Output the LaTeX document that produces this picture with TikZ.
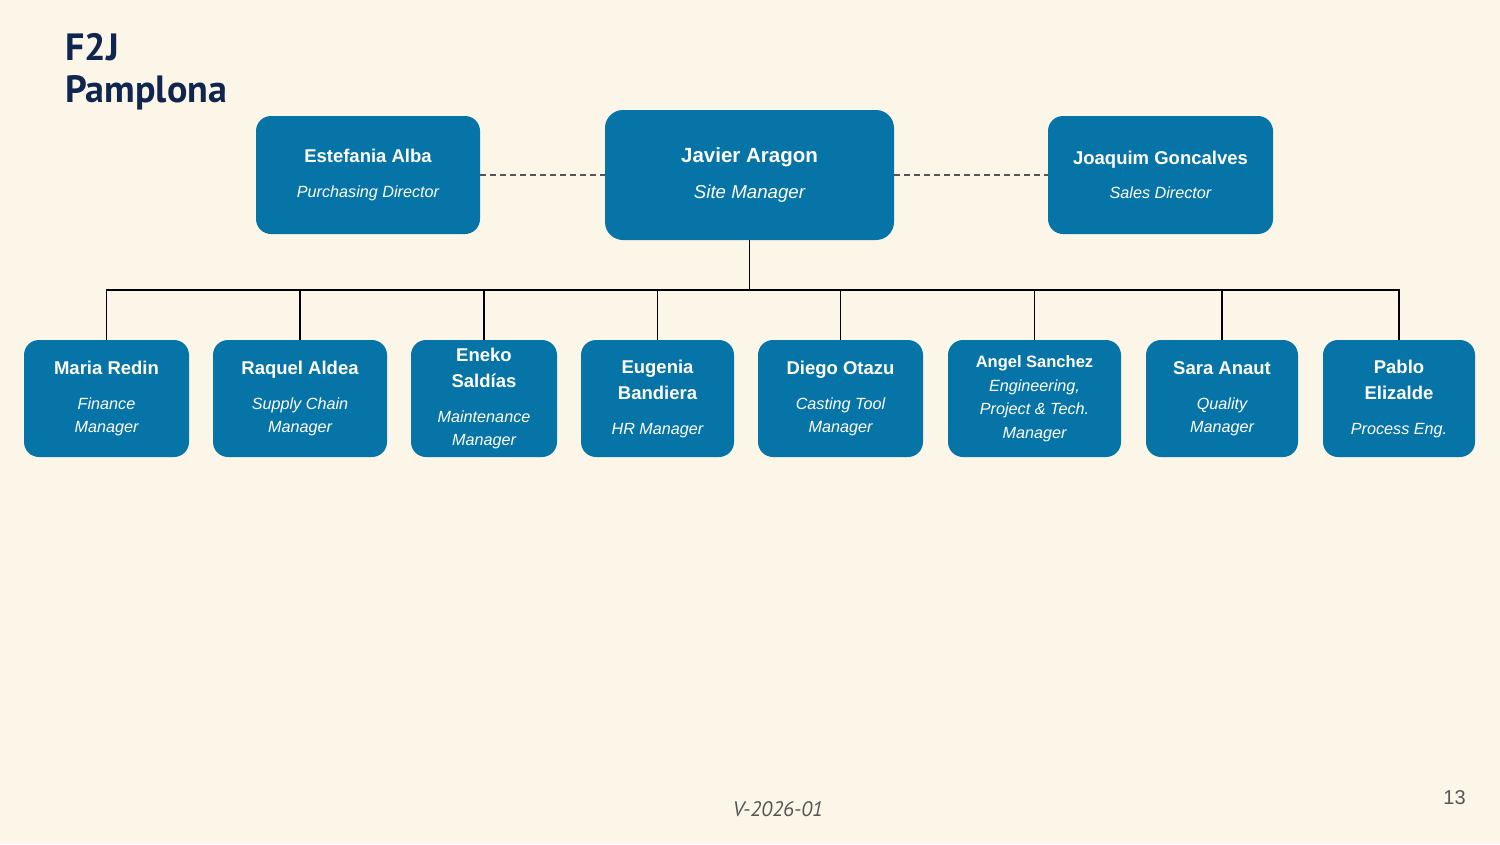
\documentclass[tikz,border=0pt]{standalone}
\usepackage{fontspec}
\setmainfont{Liberation Sans}
\newfontfamily\titlefont{PT Sans}
\usetikzlibrary{positioning}

\definecolor{paper}{RGB}{252,246,233}
\definecolor{boxblue}{RGB}{7,116,168}
\definecolor{navy}{RGB}{16,38,78}
\definecolor{inkgray}{RGB}{85,85,85}

\newcommand{\nm}[1]{{\fontsize{18.5}{23.5}\selectfont\upshape\bfseries #1}}
\newcommand{\rolefont}{\fontsize{16.2}{23.5}\selectfont\itshape}

\begin{document}
\begin{tikzpicture}[x=1pt, y=-1pt,
    card/.style={rectangle, rounded corners=15pt, fill=boxblue, text=white,
        align=center, inner sep=0pt, minimum height=117pt, font=\rolefont},
    tree/.style={draw=black, line width=1.1pt},
    link/.style={draw=inkgray, line width=1.3pt, dash pattern=on 6pt off 4pt}]
    \fill[paper] (0,0) rectangle (1500,844);
    \useasboundingbox (0,0) rectangle (1500,844);

    % title
    \node[anchor=base west, inner sep=0pt, text=navy, font=\titlefont\fontsize{38}{42}\selectfont\bfseries] (titleA) at (65,60) {F2J};
    \node[anchor=base west, inner sep=0pt, text=navy, font=\titlefont\fontsize{38}{42}\selectfont\bfseries] (titleB) at (65,102) {Pamplona};

    % top row
    \node[card, rounded corners=18pt, minimum width=289pt, minimum height=130pt,
        font=\fontsize{18.7}{23.5}\selectfont\itshape] (ceo) at (749.5,175)
        {{\fontsize{20.5}{23.5}\selectfont\upshape\bfseries Javier Aragon}\\[13pt]Site Manager};
    \node[card, minimum width=224pt, minimum height=118pt] (alba) at (368,175)
        {\nm{Estefania Alba}\\[11.5pt]Purchasing Director};
    \node[card, minimum width=225pt, minimum height=118pt] (goncalves) at (1160.5,175)
        {\nm{Joaquim Goncalves}\\[10.5pt]Sales Director};

    % bottom row
    \node[card, minimum width=165pt] (redin) at (106.5,398.5)
        {\nm{Maria Redin}\\[11.5pt]Finance\\Manager};
    \node[card, minimum width=174pt] (aldea) at (300,398.5)
        {\nm{Raquel Aldea}\\[11.5pt]Supply Chain\\Manager};
    \node[card, minimum width=146pt] (saldias) at (484,398.5)
        {\nm{Eneko}\\[2.5pt]\nm{Saldías}\\[11.5pt]Maintenance\\Manager};
    \node[card, minimum width=153pt] (bandiera) at (657.5,398.5)
        {\nm{Eugenia}\\[2.5pt]\nm{Bandiera}\\[11.5pt]HR Manager};
    \node[card, minimum width=165pt] (otazu) at (840.5,398.5)
        {\nm{Diego Otazu}\\[11.5pt]Casting Tool\\Manager};
    \node[card, minimum width=173pt] (sanchez) at (1034.5,398.5)
        {{\fontsize{16.5}{23.5}\selectfont\upshape\bfseries Angel Sanchez}\\Engineering,\\Project \& Tech.\\Manager};
    \node[card, minimum width=152pt] (anaut) at (1222,398.5)
        {\nm{Sara Anaut}\\[11.5pt]Quality\\Manager};
    \node[card, minimum width=152pt] (elizalde) at (1399,398.5)
        {\nm{Pablo}\\[2.5pt]\nm{Elizalde}\\[11.5pt]Process Eng.};

    % connectors
    \coordinate (bus) at (749.5,290);
    \draw[tree] (ceo.south) -- (bus);
    \foreach \who in {redin,aldea,saldias,bandiera,otazu,sanchez,anaut,elizalde}
        \draw[tree] (bus) -| (\who.north);
    \draw[link] (alba.east) -- (ceo.west);
    \draw[link] (ceo.east) -- (goncalves.west);

    % footer
    \node[anchor=base, inner sep=0pt, text=inkgray, font=\titlefont\fontsize{21}{24}\selectfont\itshape] (version) at (778,816) {V-2026-01};
    \node[anchor=base, inner sep=0pt, text=inkgray, font=\fontsize{20}{24}\selectfont] (pageno) at (1454.5,804) {13};
\end{tikzpicture}
\end{document}
